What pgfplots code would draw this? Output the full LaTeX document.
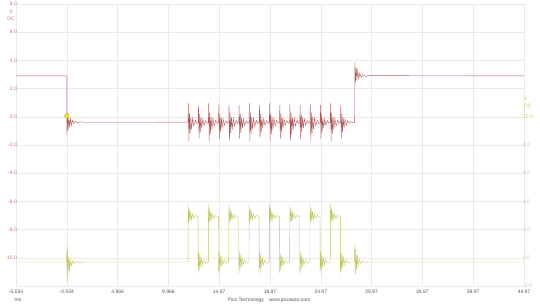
\documentclass[border=0pt]{standalone}
\usepackage{fontspec}
\setmainfont{Liberation Sans}
\usepackage{pgfplots}
\pgfplotsset{compat=1.18}
\definecolor{chA}{HTML}{B45858}
\definecolor{chB}{HTML}{C2C862}
\definecolor{labA}{HTML}{C87070}
\definecolor{labB}{HTML}{C8C47A}
\definecolor{gridc}{HTML}{EAEAEA}
\definecolor{txt}{HTML}{555555}
\begin{document}
\begin{tikzpicture}[font=\fontsize{5}{6}\selectfont]
\useasboundingbox (0,0) rectangle (540bp,304bp);
\begin{axis}[
  at={(16bp,18bp)}, anchor=south west,
  scale only axis, width=508bp, height=282bp,
  xmin=-5.034, xmax=44.966, ymin=-12, ymax=8,
  axis line style={draw=none}, tick style={draw=none},
  grid=major, major grid style={draw=gridc, line width=0.4bp},
  xtick={-5.034,-0.034,4.966,9.966,14.966,19.966,24.966,29.966,34.966,39.966,44.966},
  xticklabels={-5.034,-0.034,4.966,9.966,14.97,19.97,24.97,29.97,34.97,39.97,44.97},
  ytick={-12,-10,-8,-6,-4,-2,0,2,4,6,8},
  yticklabels={{},-10.0,-8.0,-6.0,-4.0,-2.0,0.0,2.0,4.0,6.0,8.0},
  tick label style={font=\fontsize{5}{6}\selectfont, inner sep=0pt},
  xticklabel style={text=txt, anchor=north, yshift=-4bp},
  yticklabel style={text=labA, anchor=east, xshift=1bp},
  /pgf/number format/assume math mode=true,
]
\addplot[chA, line width=0.4bp] coordinates {
(-5.034,2.9)(-0.04,2.9)(-0.034,2.9)(-0.02,-1.3)(0.04,0.25)(0.10,-0.95)(0.17,-0.05)(0.24,-0.75)(0.32,-0.15)(0.41,-0.6)(0.52,-0.25)(0.66,-0.48)(0.82,-0.32)(1.0,-0.42)(1.3,-0.36)(1.7,-0.39)(11.9,-0.38)
(11.90,-0.40)(11.93,0.95)(11.98,-1.70)(12.04,0.30)(12.10,-1.20)(12.17,0.00)(12.25,-0.90)(12.35,-0.10)(12.47,-0.65)(12.62,-0.25)(12.78,-0.48)
(12.90,-0.40)(12.93,0.85)(12.98,-1.55)(13.04,0.20)(13.10,-1.10)(13.17,-0.05)(13.25,-0.80)(13.35,-0.15)(13.47,-0.60)(13.62,-0.28)(13.78,-0.46)
(13.90,-0.40)(13.93,0.95)(13.98,-1.70)(14.04,0.30)(14.10,-1.20)(14.17,0.00)(14.25,-0.90)(14.35,-0.10)(14.47,-0.65)(14.62,-0.25)(14.78,-0.48)
(14.90,-0.40)(14.93,0.85)(14.98,-1.55)(15.04,0.20)(15.10,-1.10)(15.17,-0.05)(15.25,-0.80)(15.35,-0.15)(15.47,-0.60)(15.62,-0.28)(15.78,-0.46)
(15.90,-0.40)(15.93,0.95)(15.98,-1.70)(16.04,0.30)(16.10,-1.20)(16.17,0.00)(16.25,-0.90)(16.35,-0.10)(16.47,-0.65)(16.62,-0.25)(16.78,-0.48)
(16.90,-0.40)(16.93,0.85)(16.98,-1.55)(17.04,0.20)(17.10,-1.10)(17.17,-0.05)(17.25,-0.80)(17.35,-0.15)(17.47,-0.60)(17.62,-0.28)(17.78,-0.46)
(17.90,-0.40)(17.93,0.95)(17.98,-1.70)(18.04,0.30)(18.10,-1.20)(18.17,0.00)(18.25,-0.90)(18.35,-0.10)(18.47,-0.65)(18.62,-0.25)(18.78,-0.48)
(18.90,-0.40)(18.93,0.85)(18.98,-1.55)(19.04,0.20)(19.10,-1.10)(19.17,-0.05)(19.25,-0.80)(19.35,-0.15)(19.47,-0.60)(19.62,-0.28)(19.78,-0.46)
(19.90,-0.40)(19.93,0.95)(19.98,-1.70)(20.04,0.30)(20.10,-1.20)(20.17,0.00)(20.25,-0.90)(20.35,-0.10)(20.47,-0.65)(20.62,-0.25)(20.78,-0.48)
(20.90,-0.40)(20.93,0.85)(20.98,-1.55)(21.04,0.20)(21.10,-1.10)(21.17,-0.05)(21.25,-0.80)(21.35,-0.15)(21.47,-0.60)(21.62,-0.28)(21.78,-0.46)
(21.90,-0.40)(21.93,0.95)(21.98,-1.70)(22.04,0.30)(22.10,-1.20)(22.17,0.00)(22.25,-0.90)(22.35,-0.10)(22.47,-0.65)(22.62,-0.25)(22.78,-0.48)
(22.90,-0.40)(22.93,0.85)(22.98,-1.55)(23.04,0.20)(23.10,-1.10)(23.17,-0.05)(23.25,-0.80)(23.35,-0.15)(23.47,-0.60)(23.62,-0.28)(23.78,-0.46)
(23.90,-0.40)(23.93,0.95)(23.98,-1.70)(24.04,0.30)(24.10,-1.20)(24.17,0.00)(24.25,-0.90)(24.35,-0.10)(24.47,-0.65)(24.62,-0.25)(24.78,-0.48)
(24.90,-0.40)(24.93,0.85)(24.98,-1.55)(25.04,0.20)(25.10,-1.10)(25.17,-0.05)(25.25,-0.80)(25.35,-0.15)(25.47,-0.60)(25.62,-0.28)(25.78,-0.46)
(25.90,-0.40)(25.93,0.95)(25.98,-1.70)(26.04,0.30)(26.10,-1.20)(26.17,0.00)(26.25,-0.90)(26.35,-0.10)(26.47,-0.65)(26.62,-0.25)(26.78,-0.48)
(26.90,-0.40)(26.93,0.85)(26.98,-1.55)(27.04,0.20)(27.10,-1.10)(27.17,-0.05)(27.25,-0.80)(27.35,-0.15)(27.47,-0.60)(27.62,-0.28)(27.78,-0.46)
(27.95,-0.36)(28.1,-0.42)(28.30,-0.40)(28.32,3.85)(28.38,2.45)(28.45,3.5)(28.52,2.6)(28.6,3.3)(28.7,2.7)(28.8,3.1)(28.95,2.8)(29.1,3.0)(29.35,2.87)(29.7,2.92)(44.966,2.9)
};
\addplot[only marks, mark=*, mark size=2.3bp, mark options={fill=yellow!85!orange, draw=yellow!60!black, line width=0.3bp}] coordinates {(-0.034,0.05)};
\end{axis}
\begin{axis}[
  at={(16bp,18bp)}, anchor=south west,
  scale only axis, width=508bp, height=282bp,
  xmin=-5.034, xmax=44.966, ymin=-2, ymax=18,
  axis x line=none, axis y line*=right,
  axis line style={draw=none}, tick style={draw=none},
  ytick={-2,0,2,4,6,8,10},
  yticklabels={-2.0,0.0,2.0,4.0,6.0,8.0,10.0},
  tick label style={font=\fontsize{5}{6}\selectfont, inner sep=0pt},
  yticklabel style={text=labB, anchor=west, xshift=-1bp},
  /pgf/number format/assume math mode=true,
]
\addplot[chB, line width=0.4bp] coordinates {
(-5.034,-0.3)(-0.05,-0.3)(-0.034,0.8)(-0.01,-1.7)(0.04,0.5)(0.10,-1.2)(0.16,0.1)(0.23,-0.9)(0.31,-0.1)(0.40,-0.6)(0.52,-0.2)(0.68,-0.42)(0.9,-0.25)(1.2,-0.33)(1.6,-0.3)(11.9,-0.3)
(11.91,3.8)(11.96,2.5)(12.02,3.5)(12.08,2.6)(12.15,3.3)(12.23,2.7)(12.33,3.1)(12.46,2.8)(12.62,3.0)(12.89,2.9)(12.90,-1.1)(12.95,0.4)(13.01,-0.9)(13.07,0.2)(13.14,-0.65)(13.22,0.0)(13.32,-0.5)(13.45,-0.15)(13.62,-0.38)(13.89,-0.3)(13.90,-0.3)
(13.91,3.8)(13.96,2.5)(14.02,3.5)(14.08,2.6)(14.15,3.3)(14.23,2.7)(14.33,3.1)(14.46,2.8)(14.62,3.0)(14.89,2.9)(14.90,-1.1)(14.95,0.4)(15.01,-0.9)(15.07,0.2)(15.14,-0.65)(15.22,0.0)(15.32,-0.5)(15.45,-0.15)(15.62,-0.38)(15.89,-0.3)(15.90,-0.3)
(15.91,3.8)(15.96,2.5)(16.02,3.5)(16.08,2.6)(16.15,3.3)(16.23,2.7)(16.33,3.1)(16.46,2.8)(16.62,3.0)(16.89,2.9)(16.90,-1.1)(16.95,0.4)(17.01,-0.9)(17.07,0.2)(17.14,-0.65)(17.22,0.0)(17.32,-0.5)(17.45,-0.15)(17.62,-0.38)(17.89,-0.3)(17.90,-0.3)
(17.91,3.8)(17.96,2.5)(18.02,3.5)(18.08,2.6)(18.15,3.3)(18.23,2.7)(18.33,3.1)(18.46,2.8)(18.62,3.0)(18.89,2.9)(18.90,-1.1)(18.95,0.4)(19.01,-0.9)(19.07,0.2)(19.14,-0.65)(19.22,0.0)(19.32,-0.5)(19.45,-0.15)(19.62,-0.38)(19.89,-0.3)(19.90,-0.3)
(19.91,3.8)(19.96,2.5)(20.02,3.5)(20.08,2.6)(20.15,3.3)(20.23,2.7)(20.33,3.1)(20.46,2.8)(20.62,3.0)(20.89,2.9)(20.90,-1.1)(20.95,0.4)(21.01,-0.9)(21.07,0.2)(21.14,-0.65)(21.22,0.0)(21.32,-0.5)(21.45,-0.15)(21.62,-0.38)(21.89,-0.3)(21.90,-0.3)
(21.91,3.8)(21.96,2.5)(22.02,3.5)(22.08,2.6)(22.15,3.3)(22.23,2.7)(22.33,3.1)(22.46,2.8)(22.62,3.0)(22.89,2.9)(22.90,-1.1)(22.95,0.4)(23.01,-0.9)(23.07,0.2)(23.14,-0.65)(23.22,0.0)(23.32,-0.5)(23.45,-0.15)(23.62,-0.38)(23.89,-0.3)(23.90,-0.3)
(23.91,3.8)(23.96,2.5)(24.02,3.5)(24.08,2.6)(24.15,3.3)(24.23,2.7)(24.33,3.1)(24.46,2.8)(24.62,3.0)(24.89,2.9)(24.90,-1.1)(24.95,0.4)(25.01,-0.9)(25.07,0.2)(25.14,-0.65)(25.22,0.0)(25.32,-0.5)(25.45,-0.15)(25.62,-0.38)(25.89,-0.3)(25.90,-0.3)
(25.91,3.8)(25.96,2.5)(26.02,3.5)(26.08,2.6)(26.15,3.3)(26.23,2.7)(26.33,3.1)(26.46,2.8)(26.62,3.0)(26.89,2.9)(26.90,-1.1)(26.95,0.4)(27.01,-0.9)(27.07,0.2)(27.14,-0.65)(27.22,0.0)(27.32,-0.5)(27.45,-0.15)(27.62,-0.38)(27.89,-0.3)
(28.28,-0.3)(28.31,1.0)(28.36,-1.2)(28.42,0.6)(28.48,-0.9)(28.55,0.2)(28.63,-0.6)(28.73,-0.1)(28.85,-0.4)(29.0,-0.25)(29.3,-0.32)(29.7,-0.3)(44.966,-0.3)
};
\end{axis}
\node[text=labA] at (11bp,292bp) {V};
\node[text=labA] at (11bp,285bp) {DC};
\node[text=labB, anchor=west, inner sep=0pt] at (524bp,205bp) {V};
\node[text=labB, anchor=west, inner sep=0pt] at (524bp,198bp) {DC};
\node[text=txt] at (18bp,4bp) {ms};
\node[text=txt] at (269bp,4bp) {Pico Technology\quad www.picoauto.com};
\end{tikzpicture}
\end{document}
